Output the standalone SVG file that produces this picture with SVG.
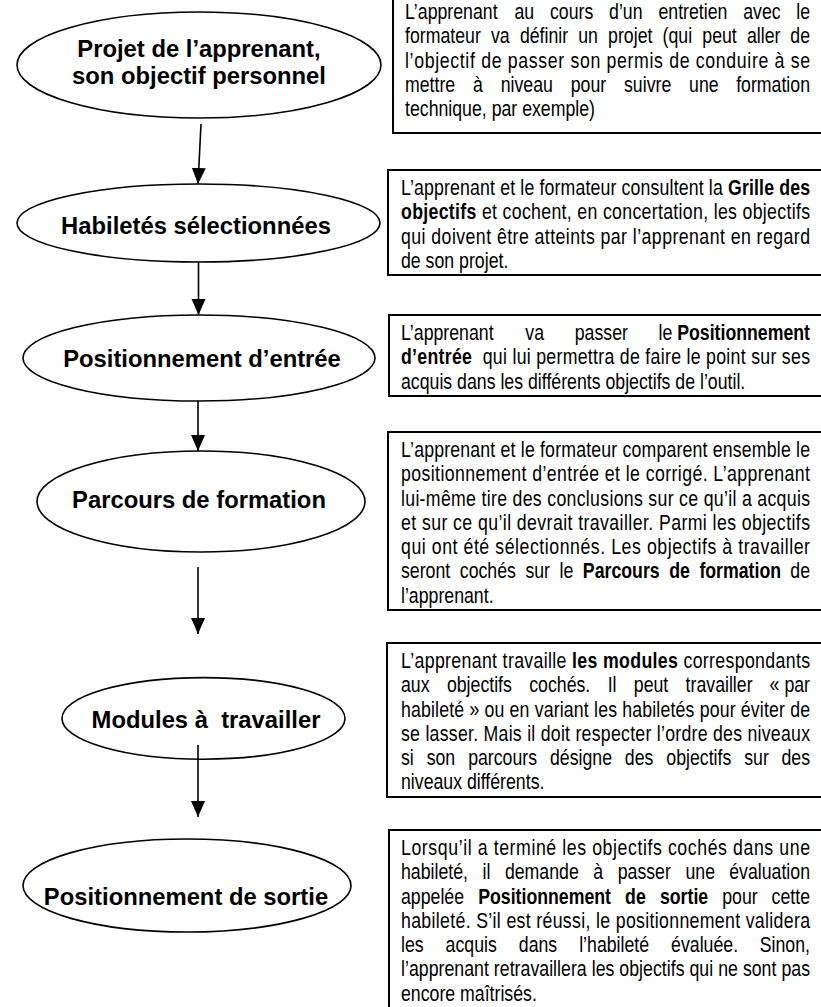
<svg xmlns="http://www.w3.org/2000/svg" width="821" height="1007" viewBox="0 0 821 1007">
<defs>
<style>
.lbl{font-family:"Liberation Sans",Arial,sans-serif;font-weight:bold;font-size:23.8px;text-anchor:middle;fill:#000}
.body{font-family:"Liberation Sans",Arial,sans-serif;font-size:21.6px;fill:#000}
.b{font-weight:bold}
.end{text-anchor:end}
.node{fill:#fff;stroke:#000;stroke-width:1.6}
.box{fill:#fff;stroke:#000;stroke-width:2}
.conn{stroke:#000;stroke-width:1.6;fill:none;marker-end:url(#ah)}
</style>
<marker id="ah" markerUnits="userSpaceOnUse" markerWidth="16" markerHeight="16" viewBox="0 0 16 16" refX="16" refY="8" orient="auto"><path d="M0,1 L16,8 L0,15 z" fill="#000"/></marker>
</defs>
<rect width="821" height="1007" fill="#fff"/>

<g id="node1"><ellipse class="node" cx="199" cy="65" rx="182" ry="53"/>
<text class="lbl" x="199" y="57">Projet de l’apprenant,</text>
<text class="lbl" x="199" y="84">son objectif personnel</text></g>
<g id="node2"><ellipse class="node" cx="198.5" cy="223" rx="181.5" ry="39"/>
<text class="lbl" x="196" y="234">Habiletés sélectionnées</text></g>
<g id="node3"><ellipse class="node" cx="199" cy="358" rx="176" ry="43"/>
<text class="lbl" x="202" y="366.5">Positionnement d’entrée</text></g>
<g id="node4"><ellipse class="node" cx="201" cy="501.5" rx="164" ry="50.5"/>
<text class="lbl" x="199" y="508">Parcours de formation</text></g>
<g id="node5"><ellipse class="node" cx="203.5" cy="718.4" rx="141.5" ry="40.8"/>
<text class="lbl" x="206" y="728" xml:space="preserve">Modules à  travailler</text></g>
<g id="node6"><ellipse class="node" cx="187" cy="885.5" rx="164" ry="46.5"/>
<text class="lbl" x="186" y="904.5">Positionnement de sortie</text></g>

<g id="connectors">
<line class="conn" x1="201" y1="124" x2="198" y2="184"/>
<line class="conn" x1="198.5" y1="262" x2="198.5" y2="315"/>
<line class="conn" x1="198" y1="401" x2="198" y2="451"/>
<line class="conn" x1="198" y1="567" x2="198" y2="634"/>
<line class="conn" x1="198" y1="745" x2="198" y2="817"/>
</g>

<g id="desc1">
<rect class="box" x="393" y="-3" width="440" height="136"/>
<g class="body" transform="translate(405 0) scale(0.82 1)">
<text y="19"><tspan x="0">L’apprenant</tspan><tspan x="133.4">au</tspan><tspan x="176.8">cours</tspan><tspan x="248.9">d’un</tspan><tspan x="309.1">entretien</tspan><tspan x="412.5">avec</tspan></text><text class="end" x="493.9" y="19">le</text>
<text y="43.3"><tspan x="0">formateur</tspan><tspan x="104.8">va</tspan><tspan x="140.1">définir</tspan><tspan x="211.3">un</tspan><tspan x="247.7">projet</tspan><tspan x="314.1">(qui</tspan><tspan x="362.6">peut</tspan><tspan x="417">aller</tspan></text><text class="end" x="493.9" y="43.3">de</text>
<text x="0" y="67.6" textLength="493.9" lengthAdjust="spacing">l’objectif de passer son permis de conduire à se</text>
<text y="91.9"><tspan x="0">mettre</tspan><tspan x="83">à</tspan><tspan x="116.7">niveau</tspan><tspan x="202.1">pour</tspan><tspan x="267.1">suivre</tspan><tspan x="346.4">une</tspan></text><text class="end" x="493.9" y="91.9">formation</text>
<text x="0" y="116.2">technique, par exemple)</text>
</g></g>

<g id="desc2">
<rect class="box" x="388" y="170" width="445" height="105"/>
<g class="body" transform="translate(401 0) scale(0.82 1)">
<text x="0" y="195" textLength="498.8" lengthAdjust="spacing">L’apprenant et le formateur consultent la <tspan class="b">Grille des</tspan></text>
<text x="0" y="219.3" textLength="498.8" lengthAdjust="spacing"><tspan class="b">objectifs</tspan> et cochent, en concertation, les objectifs</text>
<text x="0" y="243.6" textLength="498.8" lengthAdjust="spacing">qui doivent être atteints par l’apprenant en regard</text>
<text x="0" y="267.9">de son projet.</text>
</g></g>

<g id="desc3">
<rect class="box" x="389" y="315" width="444" height="81"/>
<g class="body" transform="translate(401 0) scale(0.82 1)">
<text y="340"><tspan x="0">L’apprenant</tspan><tspan x="151.6">va</tspan><tspan x="211.9">passer</tspan></text><text class="end" x="498.8" y="340">le <tspan class="b">Positionnement</tspan></text>
<text x="0" y="364.3" textLength="498.8" lengthAdjust="spacing"><tspan class="b">d’entrée</tspan>&#160; qui lui permettra de faire le point sur ses</text>
<text x="0" y="388.6">acquis dans les différents objectifs de l’outil.</text>
</g></g>

<g id="desc4">
<rect class="box" x="388" y="432" width="445" height="178"/>
<g class="body" transform="translate(401 0) scale(0.82 1)">
<text x="0" y="457" textLength="498.8" lengthAdjust="spacing">L’apprenant et le formateur comparent ensemble le</text>
<text x="0" y="481.3" textLength="498.8" lengthAdjust="spacing">positionnement d’entrée et le corrigé. L’apprenant</text>
<text x="0" y="505.6" textLength="498.8" lengthAdjust="spacing">lui-même tire des conclusions sur ce qu’il a acquis</text>
<text x="0" y="529.9" textLength="498.8" lengthAdjust="spacing">et sur ce qu’il devrait travailler. Parmi les objectifs</text>
<text x="0" y="554.2" textLength="498.8" lengthAdjust="spacing">qui ont été sélectionnés. Les objectifs à travailler</text>
<text y="578.5"><tspan x="0">seront</tspan><tspan x="71.7">cochés</tspan><tspan x="151.7">sur</tspan><tspan x="193.3">le</tspan><tspan class="b" x="221.8">Parcours</tspan><tspan class="b" x="327">de</tspan><tspan class="b" x="363.9">formation</tspan></text><text class="end" x="498.8" y="578.5">de</text>
<text x="0" y="602.8">l’apprenant.</text>
</g></g>

<g id="desc5">
<rect class="box" x="387" y="643" width="446" height="154"/>
<g class="body" transform="translate(401 0) scale(0.82 1)">
<text x="0" y="668" textLength="498.8" lengthAdjust="spacing">L’apprenant travaille <tspan class="b">les modules</tspan> correspondants</text>
<text y="692.3"><tspan x="0">aux</tspan><tspan x="56">objectifs</tspan><tspan x="156.4">cochés.</tspan><tspan x="252">Il</tspan><tspan x="283.9">peut</tspan><tspan x="347.1">travailler</tspan></text><text class="end" x="498.8" y="692.3">«&#160;par</text>
<text x="0" y="716.6" textLength="498.8" lengthAdjust="spacing">habileté&#160;» ou en variant les habiletés pour éviter de</text>
<text x="0" y="740.9" textLength="498.8" lengthAdjust="spacing">se lasser. Mais il doit respecter l’ordre des niveaux</text>
<text y="765.2"><tspan x="0">si</tspan><tspan x="31.3">son</tspan><tspan x="81.9">parcours</tspan><tspan x="181.7">désigne</tspan><tspan x="273">des</tspan><tspan x="323.6">objectifs</tspan><tspan x="418.6">sur</tspan></text><text class="end" x="498.8" y="765.2">des</text>
<text x="0" y="789.5">niveaux différents.</text>
</g></g>

<g id="desc6">
<rect class="box" x="389" y="830" width="444" height="200"/>
<g class="body" transform="translate(401 0) scale(0.82 1)">
<text x="0" y="855" textLength="498.8" lengthAdjust="spacing">Lorsqu’il a terminé les objectifs cochés dans une</text>
<text y="879.3"><tspan x="0">habileté,</tspan><tspan x="99.4">il</tspan><tspan x="126.7">demande</tspan><tspan x="234.5">à</tspan><tspan x="264.3">passer</tspan><tspan x="346.9">une</tspan></text><text class="end" x="498.8" y="879.3">évaluation</text>
<text y="903.6"><tspan x="0">appelée</tspan><tspan class="b" x="94.1">Positionnement</tspan><tspan class="b" x="273.3">de</tspan><tspan class="b" x="315.8">sortie</tspan><tspan x="391.8">pour</tspan></text><text class="end" x="498.8" y="903.6">cette</text>
<text x="0" y="927.9" textLength="498.8" lengthAdjust="spacing">habileté. S’il est réussi, le positionnement validera</text>
<text y="952.2"><tspan x="0">les</tspan><tspan x="54.4">acquis</tspan><tspan x="143.7">dans</tspan><tspan x="217.3">l’habileté</tspan><tspan x="329.4">évaluée.</tspan></text><text class="end" x="498.8" y="952.2">Sinon,</text>
<text x="0" y="976.5" textLength="498.8" lengthAdjust="spacing">l’apprenant retravaillera les objectifs qui ne sont pas</text>
<text x="0" y="1000.8">encore maîtrisés.</text>
</g></g>
</svg>
